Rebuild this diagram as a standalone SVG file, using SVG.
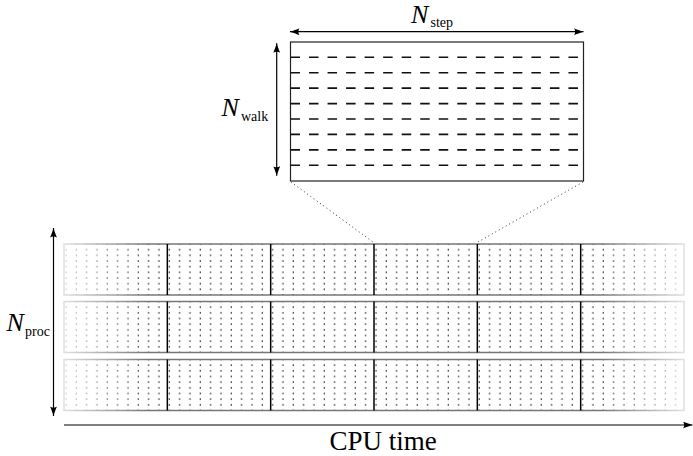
<svg xmlns="http://www.w3.org/2000/svg" width="693" height="456" viewBox="0 0 693 456">
<style>
.lbl{font-family:"Liberation Serif","Times New Roman",serif;fill:#000}
.big{font-size:26px;font-style:italic}
.sub{font-size:14px}
.arr{stroke:#000;stroke-width:1.2;fill:none}
.zoomln{stroke:#333;stroke-width:1;stroke-dasharray:1 3;fill:none}
.rowbox{fill:url(#dots);stroke:#777;stroke-width:1.5}
.div{stroke:#000;stroke-width:1.5}
.walk{stroke:#111;stroke-width:1.6;stroke-dasharray:9.5 9.03}
</style>
<defs>
<marker id="ah" markerUnits="userSpaceOnUse" markerWidth="11" markerHeight="8" refX="10" refY="3.5" orient="auto-start-reverse">
<path d="M10,3.5 C7,2.6 3,1.2 0.5,0 C2,1.8 2,5.2 0.5,7 C3,5.8 7,4.4 10,3.5 Z" fill="#000"/>
</marker>
<pattern id="dots" patternUnits="userSpaceOnUse" x="61" y="-2.833" width="10.3333" height="5.6667">
<rect x="4.35" y="2.18" width="1.3" height="1.3" fill="#111"/>
</pattern>
<linearGradient id="fadeg" gradientUnits="userSpaceOnUse" x1="64" y1="0" x2="684" y2="0">
<stop offset="0" stop-color="#3a3a3a"/>
<stop offset="0.135" stop-color="#fff"/>
<stop offset="0.865" stop-color="#fff"/>
<stop offset="1" stop-color="#3a3a3a"/>
</linearGradient>
<mask id="fade" maskUnits="userSpaceOnUse" x="0" y="230" width="693" height="190">
<rect x="0" y="230" width="693" height="190" fill="url(#fadeg)"/>
</mask>
</defs>

<g id="zoom-box">
<rect x="290.5" y="42" width="293" height="139" fill="#fff" stroke="#222" stroke-width="1.2"/>
<line class="walk" x1="290.5" y1="57.3" x2="578" y2="57.3"/>
<line class="walk" x1="290.5" y1="72.7" x2="578" y2="72.7"/>
<line class="walk" x1="290.5" y1="88.1" x2="578" y2="88.1"/>
<line class="walk" x1="290.5" y1="103.6" x2="578" y2="103.6"/>
<line class="walk" x1="290.5" y1="119" x2="578" y2="119"/>
<line class="walk" x1="290.5" y1="134.4" x2="578" y2="134.4"/>
<line class="walk" x1="290.5" y1="149.9" x2="578" y2="149.9"/>
<line class="walk" x1="290.5" y1="165.3" x2="578" y2="165.3"/>
</g>

<g id="processes" mask="url(#fade)">
<g id="proc-1" transform="translate(0,244)">
<rect class="rowbox" x="64" y="0" width="620" height="51"/>
<line class="div" x1="167.33" y1="0" x2="167.33" y2="51"/>
<line class="div" x1="270.67" y1="0" x2="270.67" y2="51"/>
<line class="div" x1="374" y1="0" x2="374" y2="51"/>
<line class="div" x1="477.33" y1="0" x2="477.33" y2="51"/>
<line class="div" x1="580.67" y1="0" x2="580.67" y2="51"/>
</g>
<g id="proc-2" transform="translate(0,301.5)">
<rect class="rowbox" x="64" y="0" width="620" height="51"/>
<line class="div" x1="167.33" y1="0" x2="167.33" y2="51"/>
<line class="div" x1="270.67" y1="0" x2="270.67" y2="51"/>
<line class="div" x1="374" y1="0" x2="374" y2="51"/>
<line class="div" x1="477.33" y1="0" x2="477.33" y2="51"/>
<line class="div" x1="580.67" y1="0" x2="580.67" y2="51"/>
</g>
<g id="proc-3" transform="translate(0,359.5)">
<rect class="rowbox" x="64" y="0" width="620" height="51"/>
<line class="div" x1="167.33" y1="0" x2="167.33" y2="51"/>
<line class="div" x1="270.67" y1="0" x2="270.67" y2="51"/>
<line class="div" x1="374" y1="0" x2="374" y2="51"/>
<line class="div" x1="477.33" y1="0" x2="477.33" y2="51"/>
<line class="div" x1="580.67" y1="0" x2="580.67" y2="51"/>
</g>
</g>

<g id="connectors">
<line class="zoomln" x1="291" y1="182" x2="373" y2="242"/>
<line class="zoomln" x1="583" y1="182" x2="478" y2="242"/>
<line class="arr" x1="290" y1="31.7" x2="583.5" y2="31.7" marker-start="url(#ah)" marker-end="url(#ah)"/>
<line class="arr" x1="276.7" y1="43.3" x2="276.7" y2="175.7" marker-start="url(#ah)" marker-end="url(#ah)"/>
<line class="arr" x1="53.5" y1="228" x2="53.5" y2="416" marker-start="url(#ah)" marker-end="url(#ah)"/>
<line class="arr" x1="64" y1="425" x2="692.5" y2="425" marker-end="url(#ah)"/>
</g>

<g id="labels">
<text class="lbl" x="411" y="22.5"><tspan class="big">N</tspan></text>
<text class="lbl sub" x="430.5" y="27">step</text>
<text class="lbl" x="221.5" y="116"><tspan class="big">N</tspan></text>
<text class="lbl sub" x="241" y="120.7">walk</text>
<text class="lbl" x="6.5" y="331"><tspan class="big">N</tspan></text>
<text class="lbl sub" x="25" y="335.5">proc</text>
<text class="lbl" x="329.5" y="450" font-size="27">CPU time</text>
</g>
</svg>
